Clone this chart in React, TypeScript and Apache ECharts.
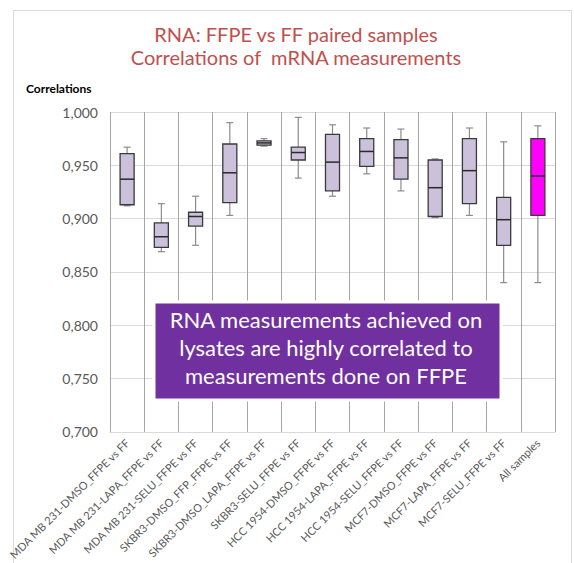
import React, { useEffect, useRef } from "react";
import * as echarts from "echarts";

const categories = [
  "MDA MB 231-DMSO_FFPE vs FF",
  "MDA MB 231-LAPA_FFPE vs FF",
  "MDA MB 231-SELU_FFPE vs FF",
  "SKBR3-DMSO_FFP_FFPE vs FF",
  "SKBR3-DMSO_LAPA_FFPE vs FF",
  "SKBR3-SELU_FFPE vs FF",
  "HCC 1954-DMSO_FFPE vs FF",
  "HCC 1954-LAPA_FFPE vs FF",
  "HCC 1954-SELU_FFPE vs FF",
  "MCF7-DMSO_FFPE vs FF",
  "MCF7-LAPA_FFPE vs FF",
  "MCF7-SELU_FFPE vs FF",
  "All samples",
];

const minValues = [0.912, 0.869, 0.875, 0.903, 0.968, 0.938, 0.921, 0.942, 0.926, 0.901, 0.903, 0.840, 0.840];
const q1Values = [0.913, 0.873, 0.893, 0.915, 0.969, 0.955, 0.926, 0.949, 0.937, 0.902, 0.914, 0.875, 0.903];
const medianValues = [0.937, 0.883, 0.902, 0.943, 0.971, 0.962, 0.953, 0.963, 0.957, 0.929, 0.945, 0.899, 0.940];
const q3Values = [0.961, 0.896, 0.906, 0.970, 0.973, 0.967, 0.979, 0.975, 0.974, 0.955, 0.975, 0.920, 0.975];
const maxValues = [0.967, 0.914, 0.921, 0.990, 0.975, 0.995, 0.988, 0.985, 0.984, 0.956, 0.985, 0.972, 0.987];

const titleLines = ["RNA: FFPE vs FF paired samples", "Correlations of  mRNA measurements"];
const yAxisTitle = "Correlations";
const noteLines = [
  "RNA measurements achieved on",
  "lysates are highly correlated to",
  "measurements done on FFPE",
];

const FONT = "Lato, 'Open Sans', sans-serif";

export default function App() {
  const ref = useRef<HTMLDivElement>(null);
  useEffect(() => {
    if (!ref.current) return;
    const chart = echarts.init(ref.current, null, { renderer: "svg" });
    const data = categories.map((_, i) => [i, minValues[i], q1Values[i], medianValues[i], q3Values[i], maxValues[i]]);
    chart.setOption({
      animation: false,
      backgroundColor: "#ffffff",
      textStyle: { fontFamily: FONT },
      title: {
        text: titleLines.join("\n"),
        left: 291,
        textAlign: "center",
        top: 17,
        textStyle: { color: "#c0504d", fontSize: 20, fontWeight: "normal", lineHeight: 23, fontFamily: FONT },
      },
      grid: { left: 110, right: 19, top: 112, bottom: 130, containLabel: false },
      xAxis: {
        type: "category",
        data: categories,
        boundaryGap: true,
        axisLine: { show: true, lineStyle: { color: "#d9d9d9" } },
        axisTick: { show: false },
        splitLine: { show: true, lineStyle: { color: "#a6a6a6", width: 1 } },
        axisLabel: { interval: 0, rotate: 45, color: "#595959", fontSize: 11, margin: 9, fontFamily: FONT },
      },
      yAxis: {
        type: "value",
        min: 0.7,
        max: 1.0,
        interval: 0.05,
        axisLine: { show: false },
        axisTick: { show: false },
        splitLine: { show: true, lineStyle: { color: "#d9d9d9" } },
        axisLabel: {
          color: "#595959",
          fontSize: 14,
          margin: 12,
          fontFamily: FONT,
          formatter: (v: number) => v.toFixed(3).replace(".", ","),
        },
      },
      series: [
        {
          type: "custom",
          data,
          encode: { x: 0, y: [1, 2, 3, 4, 5] },
          renderItem: (params: any, api: any) => {
            const idx = api.value(0);
            const pMin = api.coord([idx, api.value(1)]);
            const pQ1 = api.coord([idx, api.value(2)]);
            const pMed = api.coord([idx, api.value(3)]);
            const pQ3 = api.coord([idx, api.value(4)]);
            const pMax = api.coord([idx, api.value(5)]);
            const cx = pMed[0];
            const band = api.size([1, 0])[0];
            const bw = band * 0.41;
            const cap = bw * 0.5;
            const fill = params.dataIndex === categories.length - 1 ? "#ff00ff" : "#ccc1da";
            const wStyle = { stroke: "#8c8c8c", lineWidth: 1.2 };
            return {
              type: "group",
              children: [
                { type: "line", shape: { x1: cx, y1: pMax[1], x2: cx, y2: pQ3[1] }, style: wStyle },
                { type: "line", shape: { x1: cx, y1: pQ1[1], x2: cx, y2: pMin[1] }, style: wStyle },
                { type: "line", shape: { x1: cx - cap / 2, y1: pMax[1], x2: cx + cap / 2, y2: pMax[1] }, style: wStyle },
                { type: "line", shape: { x1: cx - cap / 2, y1: pMin[1], x2: cx + cap / 2, y2: pMin[1] }, style: wStyle },
                {
                  type: "rect",
                  shape: { x: cx - bw / 2, y: pQ3[1], width: bw, height: Math.max(pQ1[1] - pQ3[1], 1) },
                  style: { fill, stroke: "#3a3a3a", lineWidth: 1.3 },
                },
                { type: "line", shape: { x1: cx - bw / 2, y1: pMed[1], x2: cx + bw / 2, y2: pMed[1] }, style: { stroke: "#2a2a2a", lineWidth: 1.5 } },
              ],
            };
          },
          z: 5,
        },
      ],
      graphic: [
        {
          type: "rect",
          left: 11,
          top: 8,
          z: 0,
          shape: { width: 558, height: 570 },
          style: { fill: "none", stroke: "#d9d9d9", lineWidth: 1 },
        },
        {
          type: "text",
          left: 26,
          top: 82,
          z: 100,
          style: { text: yAxisTitle, fill: "#000000", font: `bold 12px ${FONT}` },
        },
        {
          type: "rect",
          left: 152.5,
          top: 300.5,
          z: 100,
          shape: { width: 347, height: 98 },
          style: { fill: "#7030a0", stroke: "#ffffff", lineWidth: 3 },
        },
        {
          type: "text",
          x: 326,
          y: 347,
          z: 101,
          style: {
            text: noteLines.join("\n"),
            fill: "#ffffff",
            align: "center",
            verticalAlign: "middle",
            font: `22px ${FONT}`,
            lineHeight: 28,
          },
        },
      ],
    });
    return () => chart.dispose();
  }, []);
  return <div ref={ref} style={{ position: "absolute", left: 0, top: 0, width: 574, height: 563 }} />;
}
